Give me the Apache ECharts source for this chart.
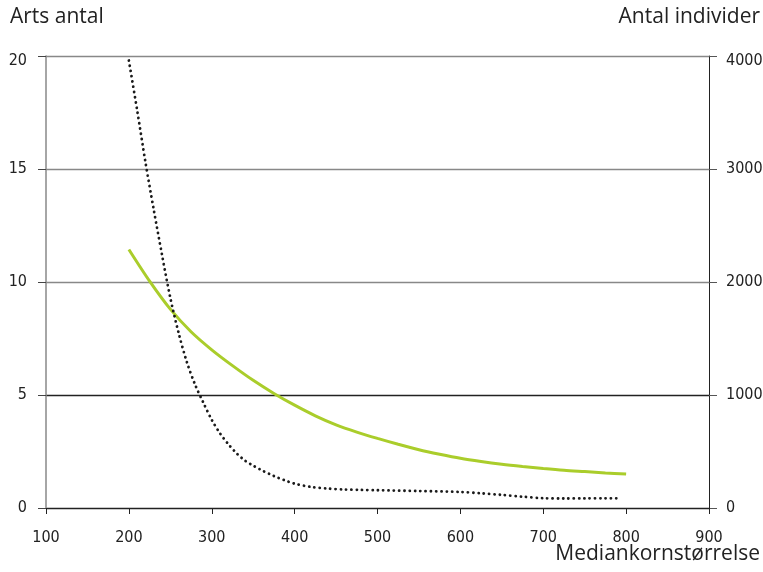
<!DOCTYPE html>
<html>
<head>
<meta charset="utf-8">
<script src="https://cdn.jsdelivr.net/npm/echarts@6/dist/echarts.min.js"></script>
<style>html,body{margin:0;padding:0;background:#fff;}#c{width:763px;height:572px;}</style>
</head>
<body>
<div id="c"></div>
<script>
// Arts antal (left axis) vs Mediankornstørrelse
const artsX = [200,225,250,275,300,325,350,375,400,425,450,475,500,525,550,575,600,625,650,675,700,725,750,775,800];
const artsY = [11.44,10.04,8.8,7.8,7.0,6.3,5.65,5.07,4.55,4.08,3.68,3.36,3.08,2.82,2.58,2.38,2.2,2.06,1.94,1.84,1.75,1.67,1.61,1.55,1.5];
// Antal individer (right axis)
const indX = [200,210,220,230,240,250,260,270,280,290,300,310,320,330,340,350,360,370,380,390,400,420,440,460,480,500,550,600,625,650,675,700,725,750,775,790];
const indY = [3960,3520,3060,2640,2240,1860,1550,1290,1090,930,780,660,565,484,420,375,335,300,268,240,215,186,172,164,160,157,150,142,130,116,100,87,84,85,86,86];
const xTicks = [100,200,300,400,500,600,700,800,900];
const leftTicks = [0,5,10,15,20];
const rightTicks = [0,1000,2000,3000,4000];

const pair = (xs, ys) => xs.map((x, i) => [x, ys[i]]);
const tickFont = 'DejaVu Sans Condensed';
const titleFont = 'Open Sans';
const topRich = {top: {padding: [10, 0, 0, 0], fontFamily: tickFont, fontSize: 16, color: '#222'}};
const fmt = (maxV) => (v) => (v === maxV ? '{top|' + v + '}' : String(v));

const chart = echarts.init(document.getElementById('c'), null, {renderer: 'canvas'});
chart.setOption({
  animation: false,
  backgroundColor: '#ffffff',
  grid: {left: 46, right: 54, top: 56, bottom: 64, containLabel: false, outerBoundsMode: 'none'},
  xAxis: {
    type: 'value', min: xTicks[0], max: xTicks[xTicks.length - 1], interval: 100,
    axisLine: {show: true, lineStyle: {color: '#222', width: 1}},
    axisTick: {show: true, inside: false, length: 6, lineStyle: {color: '#222'}},
    axisLabel: {color: '#222', fontFamily: tickFont, fontSize: 16, margin: 22},
    splitLine: {show: false}
  },
  yAxis: [
    {
      type: 'value', min: leftTicks[0], max: leftTicks[leftTicks.length - 1], interval: 5,
      position: 'left',
      axisLine: {show: true, lineStyle: {color: '#888', width: 1.5}},
      axisTick: {show: true, inside: false, length: 8, lineStyle: {color: '#444'}},
      axisLabel: {color: '#222', fontFamily: tickFont, fontSize: 16, margin: 19,
        formatter: fmt(leftTicks[leftTicks.length - 1]), rich: topRich},
      splitLine: {show: true, lineStyle: {color: ['#222', '#222', '#888', '#888', '#888'], width: 1.3}}
    },
    {
      type: 'value', min: rightTicks[0], max: rightTicks[rightTicks.length - 1], interval: 1000,
      position: 'right',
      axisLine: {show: true, lineStyle: {color: '#222', width: 1}},
      axisTick: {show: true, inside: false, length: 8, lineStyle: {color: '#555'}},
      axisLabel: {color: '#222', fontFamily: tickFont, fontSize: 16, margin: 17,
        formatter: fmt(rightTicks[rightTicks.length - 1]), rich: topRich},
      splitLine: {show: false}
    }
  ],
  graphic: [
    {type: 'text', left: 10, top: 7, style: {text: 'Arts antal', fontFamily: titleFont, fontSize: 21, fill: '#222'}},
    {type: 'text', right: 3, top: 7, style: {text: 'Antal individer', fontFamily: titleFont, fontSize: 21, fill: '#222'}},
    {type: 'text', right: 3, top: 544, style: {text: 'Mediankornstørrelse', fontFamily: titleFont, fontSize: 21, fill: '#222'}}
  ],
  series: [
    {
      type: 'line', name: 'Arts antal', yAxisIndex: 0, data: pair(artsX, artsY),
      smooth: 0.3, showSymbol: false, symbol: 'none',
      lineStyle: {color: '#aacd2b', width: 3}
    },
    {
      type: 'line', name: 'Antal individer', yAxisIndex: 1, data: pair(indX, indY),
      smooth: 0.3, showSymbol: false, symbol: 'none',
      lineStyle: {color: '#1a1a1a', width: 2.8, type: [0.1, 5.2], cap: 'round'}
    }
  ]
});
</script>
</body>
</html>
